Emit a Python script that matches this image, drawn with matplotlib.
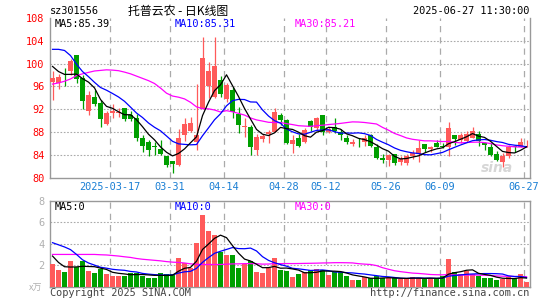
import matplotlib
matplotlib.use("Agg")
import matplotlib.pyplot as plt
import numpy as np
import pandas as pd

# daily OHLC, 2025-03-03 .. 2025-06-27 (80 trading days)
opens = [96.73, 96.6, 98.05, 98.7, 101.5, 97.4, 91.6, 94.2, 93.0, 89.4,
         91.3, 91.4, 92.2, 90.9, 90.5, 86.9, 86.2, 85.45, 85.0, 83.8,
         82.9, 82.2, 87.4, 88.2, 86.2, 92.05, 96.0, 94.15, 97.2, 93.8,
         95.3, 91.2, 88.8, 88.9, 84.9, 86.8, 87.7, 88.0, 91.0, 90.1,
         85.85, 86.9, 86.3, 89.9, 88.65, 90.9, 88.0, 88.9, 87.95, 87.0,
         85.85, 86.25, 86.2, 87.5, 85.4, 83.4, 83.0, 84.1, 82.8, 82.5,
         83.7, 84.1, 85.85, 85.05, 86.0, 85.6, 85.4, 87.4, 86.6, 86.4,
         87.0, 87.6, 86.0, 85.4, 84.1, 82.8, 83.7, 85.45, 85.4, 86.0]
highs = [98.7, 98.2, 99.2, 100.8, 101.5, 98.0, 95.2, 95.4, 93.6, 91.6,
         92.9, 92.2, 92.2, 91.7, 91.1, 87.4, 86.6, 86.3, 86.5, 83.8,
         82.9, 88.6, 90.5, 90.7, 96.4, 104.6, 100.3, 104.7, 97.8, 96.6,
         95.85, 92.3, 90.4, 89.2, 87.6, 87.7, 88.3, 92.2, 91.3, 90.3,
         87.5, 87.6, 88.65, 90.1, 90.7, 90.9, 88.9, 90.5, 88.5, 87.4,
         86.8, 86.9, 87.5, 87.6, 85.85, 84.1, 84.1, 84.1, 83.7, 84.1,
         84.85, 86.6, 85.85, 85.6, 86.6, 86.1, 89.8, 87.4, 87.8, 88.1,
         88.8, 88.1, 86.3, 86.0, 84.6, 84.3, 85.7, 85.7, 86.9, 86.6]
lows = [93.6, 95.5, 96.1, 98.0, 96.6, 92.0, 91.0, 92.6, 88.8, 89.2,
        90.4, 90.7, 89.9, 89.9, 86.4, 84.4, 83.8, 83.9, 83.9, 81.9,
        80.8, 82.1, 86.4, 88.0, 84.9, 92.05, 94.0, 93.9, 94.2, 93.2,
        90.5, 87.8, 87.1, 84.0, 84.0, 86.2, 86.0, 87.9, 89.3, 85.8,
        84.3, 85.4, 86.0, 88.1, 88.4, 87.4, 87.8, 87.8, 86.6, 85.85,
        85.55, 85.4, 85.55, 85.3, 83.3, 82.5, 82.05, 82.2, 82.2, 82.2,
        83.3, 82.8, 84.4, 84.4, 85.3, 85.1, 83.7, 85.7, 86.0, 86.3,
        86.9, 85.6, 84.85, 83.7, 82.9, 81.9, 83.5, 84.4, 85.3, 85.3]
closes = [97.43, 97.6, 97.95, 100.5, 97.3, 93.45, 94.5, 92.9, 90.3, 91.3,
          91.7, 91.5, 90.3, 90.3, 86.9, 85.6, 84.85, 85.4, 84.1, 82.2,
          82.4, 87.0, 89.4, 89.5, 87.4, 101.05, 98.7, 99.6, 94.6, 96.2,
          91.5, 89.2, 89.1, 85.3, 87.1, 87.3, 88.0, 91.5, 90.1, 86.0,
          86.6, 85.6, 88.4, 88.8, 90.4, 87.95, 88.5, 88.1, 87.45, 86.3,
          86.3, 86.2, 87.0, 85.6, 83.4, 83.1, 84.0, 82.5, 83.3, 83.8,
          84.3, 85.1, 85.0, 85.3, 85.4, 85.3, 88.65, 86.8, 87.4, 87.6,
          88.1, 86.4, 85.7, 84.0, 83.1, 83.7, 85.4, 85.35, 86.3, 86.1]
# volume, in 10k lots
volumes = [2.06, 1.58, 1.39, 2.34, 1.8, 2.34, 1.49, 1.3, 1.65, 1.2,
           1.01, 1.01, 1.01, 1.27, 1.3, 1.01, 0.82, 0.82, 1.3, 1.2,
           1.14, 2.69, 2.18, 1.74, 4.08, 6.65, 5.22, 4.84, 3.23, 2.91,
           2.91, 1.71, 2.06, 2.34, 1.39, 1.3, 1.74, 2.63, 1.5, 1.46,
           0.89, 1.2, 1.36, 1.55, 1.65, 1.52, 1.1, 1.36, 1.36, 0.98,
           0.63, 0.6, 0.89, 0.76, 0.95, 0.76, 0.76, 0.76, 0.66, 0.84,
           0.89, 0.76, 0.66, 0.76, 0.76, 0.98, 2.6, 1.36, 1.2, 1.46,
           1.17, 0.98, 0.84, 0.76, 0.63, 0.66, 0.89, 0.76, 1.2, 0.44]

# moving average values at the left edge (need days before the window)
ma5_head = [99.5, 98.6, 98.1, 98.1]
ma10_head = [102.5, 102.5, 102.3, 101.4, 99.9, 98.6, 97.7, 96.7, 95.8]
ma30_head = [96.4, 96.6, 96.9, 97.3, 97.9, 98.2, 98.45, 98.7, 98.8, 98.9,
             98.85, 98.75, 98.5, 98.2, 97.8, 97.4, 97.0, 96.5, 95.7, 94.8,
             94.3, 94.1, 93.8, 93.2, 92.4, 92.1, 92.05, 91.85, 91.5]
vma5_head = [2.85, 2.25, 1.85, 1.82]
vma10_head = [4.1, 3.9, 3.7, 3.45, 3.0, 2.5, 2.2, 2.0, 1.8]
vma30_head = [3.0, 3.0, 3.0, 3.0, 3.0, 3.0, 3.0, 3.0, 2.97, 2.95,
              2.9, 2.85, 2.78, 2.72, 2.62, 2.55, 2.5, 2.45, 2.4, 2.33,
              2.28, 2.25, 2.2, 2.12, 2.08, 2.06, 2.06, 2.06, 2.06]

date_ticks = [10, 20, 29, 39, 46, 56, 65, 79]
date_labels = ["2025-03-17", "03-31", "04-14", "04-28", "05-12",
               "05-26", "06-09", "06-27"]


def moving(values, n, head):
    out = pd.Series(values).rolling(n).mean().to_numpy()
    out[:n - 1] = head
    return out


RED = "#ff5a5a"
GREEN = "#009f00"
GRID = "#aaaaaa"
MONO = "DejaVu Sans Mono"

o = np.array(opens)
c = np.array(closes)
up = c >= o
cols = np.where(up, RED, GREEN)
x = np.arange(len(c))
cx = x + 0.42

fig = plt.figure(figsize=(5.45, 3.0), dpi=100)
ax = fig.add_axes([50 / 545, 1 - 177.5 / 300, 480 / 545, 159.5 / 300])
axv = fig.add_axes([50 / 545, 1 - 286.5 / 300, 480 / 545, 85.5 / 300])

# --- price panel ---
body_lo = np.minimum(o, c)
body_h = np.maximum(np.abs(c - o), 0.08)
ax.vlines(cx, lows, highs, colors=cols, lw=0.9, zorder=3)
ax.bar(x, body_h, bottom=body_lo, width=0.83, align="edge",
       color=cols, linewidth=0, zorder=4)
ax.plot(cx, moving(closes, 30, ma30_head), color="#ff00ff", lw=0.9, zorder=5)
ax.plot(cx, moving(closes, 10, ma10_head), color="#0000ff", lw=0.9, zorder=5)
ax.plot(cx, moving(closes, 5, ma5_head), color="black", lw=0.9, zorder=5)

ax.set_xlim(0, 80)
ax.set_ylim(80, 108)
ax.set_yticks(np.arange(80, 109, 4))
for y in range(84, 108, 4):
    ax.axhline(y, color=GRID, lw=0.8, ls=(0, (1.5, 1.5)), zorder=1)
for d in date_ticks:
    ax.axvline(d, color=GRID, lw=0.9, ls=(0, (5, 4)), zorder=1)
ax.set_xticks(date_ticks)
ax.set_xticklabels(date_labels)
ax.tick_params(axis="x", length=0, pad=3, labelsize=7.4, labelcolor="#1a7fd4")
ax.tick_params(axis="y", length=0, pad=4, labelsize=7.4, labelcolor="red")
for lab in ax.get_xticklabels() + ax.get_yticklabels():
    lab.set_family(MONO)
ax.spines["top"].set_visible(False)
for s in ("left", "right", "bottom"):
    ax.spines[s].set_color("#999999")
    ax.spines[s].set_linewidth(1.0)

ax.text(0.8, 106.9, "MA5:85.39", color="black", family=MONO, fontsize=7.4, va="center")
ax.text(20.7, 106.9, "MA10:85.31", color="#0000ff", family=MONO, fontsize=7.4, va="center")
ax.text(40.8, 106.9, "MA30:85.21", color="#ff00ff", family=MONO, fontsize=7.4, va="center")
ax.text(74.5, 81.6, "sina", color="#cccccc", fontsize=10, style="italic",
        weight="bold", ha="center", va="center", alpha=0.8, zorder=6)

# --- volume panel ---
axv.bar(x, volumes, width=0.83, align="edge", color=cols, linewidth=0, zorder=3)
axv.plot(cx, moving(volumes, 30, vma30_head), color="#ff00ff", lw=0.9, zorder=5)
axv.plot(cx, moving(volumes, 10, vma10_head), color="#0000ff", lw=0.9, zorder=5)
axv.plot(cx, moving(volumes, 5, vma5_head), color="black", lw=0.9, zorder=5)
axv.set_xlim(0, 80)
axv.set_ylim(0, 8)
axv.set_yticks([2, 4, 6, 8])
axv.set_xticks([])
for y in (2, 4, 6):
    axv.axhline(y, color=GRID, lw=0.8, ls=(0, (1.5, 1.5)), zorder=1)
for d in date_ticks:
    axv.axvline(d, color=GRID, lw=0.9, ls=(0, (5, 4)), zorder=1)
axv.tick_params(axis="y", length=0, pad=4, labelsize=7.4, labelcolor="#b0b0b0")
for lab in axv.get_yticklabels():
    lab.set_family(MONO)
for s in axv.spines.values():
    s.set_color("#999999")
    s.set_linewidth(1.0)
axv.text(0.8, 7.4, "MA5:0", color="black", family=MONO, fontsize=7.4, va="center")
axv.text(20.7, 7.4, "MA10:0", color="#0000ff", family=MONO, fontsize=7.4, va="center")
axv.text(40.8, 7.4, "MA30:0", color="#ff00ff", family=MONO, fontsize=7.4, va="center")

# --- header / footer texts ---
fig.text(50 / 545, 1 - 11 / 300, "sz301556", family=MONO, fontsize=7.4, va="center")
fig.text(178 / 545, 1 - 11 / 300, "托普云农 - 日K线图", family=["Noto Sans CJK SC", "DejaVu Sans"],
         fontsize=8.6, ha="center", va="center")
fig.text(529 / 545, 1 - 11 / 300, "2025-06-27 11:30:00", family=MONO, fontsize=7.4,
         ha="right", va="center")
fig.text(29 / 545, 1 - 288 / 300, "x万", family=["Noto Sans CJK SC", "DejaVu Sans"],
         fontsize=6.5, color="#b0b0b0", va="center")
fig.text(50 / 545, 1 - 292.5 / 300, "Copyright 2025 SINA.COM", family=MONO, fontsize=7.4,
         color="#444444", va="center")
fig.text(529 / 545, 1 - 292.5 / 300, "http://finance.sina.com.cn", family=MONO, fontsize=7.4,
         color="#444444", ha="right", va="center")

fig.savefig("out.png", dpi=100)
